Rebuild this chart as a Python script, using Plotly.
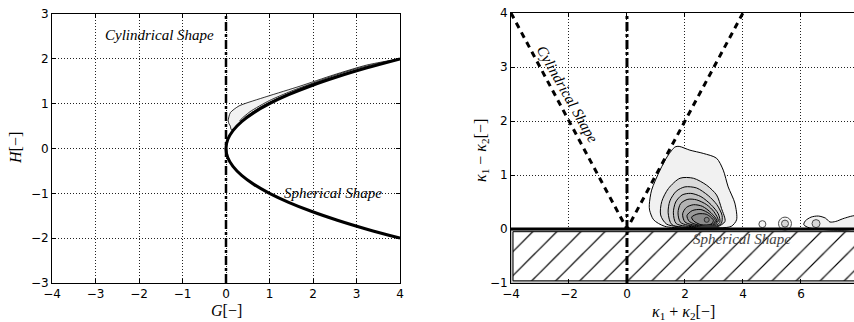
import plotly.graph_objects as go

# ---------------------------------------------------------------------------
# Data
# ---------------------------------------------------------------------------

# left panel: boundary H^2 = G (read points), both branches in one list
bound_g = [4, 3.24, 2.56, 1.96, 1.44, 1.0, 0.64, 0.36, 0.16, 0.04, 0.0,
           0.04, 0.16, 0.36, 0.64, 1.0, 1.44, 1.96, 2.56, 3.24, 4]
bound_h = [-2, -1.8, -1.6, -1.4, -1.2, -1.0, -0.8, -0.6, -0.4, -0.2, 0.0,
           0.2, 0.4, 0.6, 0.8, 1.0, 1.2, 1.4, 1.6, 1.8, 2]

# left panel: density contours hugging the upper branch (outer -> inner)
left_levels = [
    ([0.07, 0.05, 0.1, 0.3, 0.94, 1.7, 2.47, 3.23, 4.0, 3.24, 2.56, 1.96, 1.44, 1.0, 0.64, 0.36, 0.2, 0.12, 0.1, 0.07],
     [0.55, 0.62, 0.8, 0.95, 1.16, 1.39, 1.64, 1.86, 2.0, 1.8, 1.6, 1.4, 1.2, 1.0, 0.8, 0.6, 0.45, 0.42, 0.5, 0.55]),
    ([0.32, 0.55, 1.0, 1.5, 2.0, 2.5, 3.0, 3.5, 4.0, 3.24, 2.56, 1.96, 1.44, 1.0, 0.64, 0.36, 0.32],
     [0.62, 0.82, 1.07, 1.28, 1.46, 1.63, 1.78, 1.9, 2.0, 1.8, 1.6, 1.4, 1.2, 1.0, 0.8, 0.6, 0.62]),
    ([0.45, 0.8, 1.3, 1.9, 2.5, 3.1, 3.6, 4.0, 3.24, 2.56, 1.96, 1.44, 1.0, 0.64, 0.45],
     [0.7, 0.93, 1.17, 1.41, 1.6, 1.77, 1.9, 2.0, 1.8, 1.6, 1.4, 1.2, 1.0, 0.8, 0.7]),
    ([0.6, 1.0, 1.6, 2.2, 2.8, 3.4, 4.0, 3.24, 2.56, 1.96, 1.44, 1.0, 0.64, 0.6],
     [0.8, 1.03, 1.28, 1.5, 1.68, 1.85, 2.0, 1.8, 1.6, 1.4, 1.2, 1.0, 0.8, 0.8]),
]

# right panel: V-shaped cylindrical boundary
cyl_x = [-4, 0, 4]
cyl_y = [4, 0, 4]

# right panel: hatched (forbidden) band below zero
band_x = [-3.93, 7.9, 7.9, -3.93, -3.93]
band_y = [-0.05, -0.05, -0.96, -0.96, -0.05]

# right panel: density contours of the main blob (outer -> inner)
right_levels = [
    ([0.92, 0.78, 0.77, 0.85, 1.14, 1.4, 1.66, 1.8, 2.17, 2.63, 3.09, 3.32, 3.49, 3.72, 3.78, 3.6, 3.2, 2.0, 1.3, 0.92],
     [0.17, 0.35, 0.45, 0.72, 1.09, 1.35, 1.52, 1.53, 1.46, 1.40, 1.31, 1.09, 0.78, 0.48, 0.17, 0.05, 0.02, 0.02, 0.05, 0.17]),
    ([1.37, 1.16, 1.2, 1.43, 1.83, 2.29, 2.75, 3.09, 3.26, 3.38, 3.1, 2.2, 1.37],
     [0.09, 0.26, 0.51, 0.75, 0.94, 0.94, 0.81, 0.63, 0.38, 0.14, 0.04, 0.03, 0.09]),
    ([1.55, 1.42, 1.48, 1.7, 2.0, 2.4, 2.8, 3.1, 3.28, 3.25, 3.0, 2.3, 1.55],
     [0.08, 0.3, 0.52, 0.7, 0.78, 0.76, 0.62, 0.45, 0.25, 0.1, 0.04, 0.03, 0.08]),
    ([1.7, 1.6, 1.68, 1.9, 2.2, 2.55, 2.9, 3.15, 3.2, 2.95, 2.4, 1.7],
     [0.1, 0.3, 0.5, 0.63, 0.66, 0.6, 0.45, 0.28, 0.12, 0.05, 0.04, 0.1]),
    ([1.85, 1.76, 1.85, 2.1, 2.4, 2.75, 3.0, 3.15, 2.95, 2.4, 1.85],
     [0.12, 0.3, 0.47, 0.55, 0.54, 0.45, 0.32, 0.15, 0.06, 0.05, 0.12]),
    ([2.0, 1.92, 2.05, 2.3, 2.6, 2.9, 3.1, 2.95, 2.45, 2.0],
     [0.13, 0.28, 0.4, 0.45, 0.42, 0.3, 0.15, 0.07, 0.06, 0.13]),
    ([2.15, 2.07, 2.25, 2.55, 2.85, 3.05, 2.9, 2.5, 2.15],
     [0.14, 0.25, 0.34, 0.36, 0.28, 0.15, 0.08, 0.07, 0.14]),
    ([2.3, 2.23, 2.45, 2.75, 2.98, 2.9, 2.55, 2.3],
     [0.15, 0.22, 0.28, 0.27, 0.16, 0.09, 0.08, 0.15]),
]
right_fills = ["#f1f1f1", "#dadada", "#cdcdcd", "#c0c0c0", "#b3b3b3", "#a6a6a6", "#999999", "#8c8c8c"]

dark_x = [2.3, 2.6, 2.9, 3.2, 3.3, 2.3]
dark_y = [0.0, 0.06, 0.07, 0.03, 0.0, 0.0]

# small satellite blobs along the axis
spot_x = [4.67, 5.45]
spot_y = [0.09, 0.1]
tail_x = [6.1, 6.15, 6.35, 6.6, 6.85, 7.0, 7.2, 7.5, 7.9, 7.9, 6.3, 6.1]
tail_y = [0.08, 0.15, 0.22, 0.24, 0.2, 0.13, 0.14, 0.2, 0.24, 0.02, 0.02, 0.08]
core_x = [2.75, 5.45, 6.52]
core_y = [0.17, 0.1, 0.1]

SERIF = "Liberation Serif"
SANS = "DejaVu Sans"

fig = go.Figure()

# ---------------------------------------------------------------------------
# Left panel
# ---------------------------------------------------------------------------
left_fill = ["#f2f2f2", "#e4e4e4", "#d6d6d6", "#c8c8c8"]
for (gx, hy), col in zip(left_levels, left_fill):
    fig.add_trace(go.Scatter(x=gx, y=hy, mode="lines", fill="toself", fillcolor=col,
                             line=dict(color="black", width=0.8, shape="spline", smoothing=0.6),
                             xaxis="x", yaxis="y", hoverinfo="skip"))

fig.add_trace(go.Scatter(x=bound_g, y=bound_h, mode="lines",
                         line=dict(color="black", width=3, shape="spline"),
                         xaxis="x", yaxis="y"))
fig.add_trace(go.Scatter(x=[0, 0], y=[-3, 3], mode="lines",
                         line=dict(color="black", width=2.5, dash="dashdot"),
                         xaxis="x", yaxis="y"))

# ---------------------------------------------------------------------------
# Right panel
# ---------------------------------------------------------------------------
fig.add_trace(go.Scatter(x=[-4, 7.9, 7.9, -4, -4], y=[0, 0, -1, -1, 0], mode="lines",
                         fill="toself", fillcolor="#c4c4c4", line=dict(width=0),
                         xaxis="x2", yaxis="y2", hoverinfo="skip"))
fig.add_trace(go.Scatter(x=band_x, y=band_y, mode="lines", fill="toself",
                         fillpattern=dict(shape="/", size=17, solidity=0.07,
                                          fgcolor="black", fgopacity=1, bgcolor="white"),
                         line=dict(color="black", width=1),
                         xaxis="x2", yaxis="y2", hoverinfo="skip"))

for (kx, ky), col in zip(right_levels, right_fills):
    fig.add_trace(go.Scatter(x=kx, y=ky, mode="lines", fill="toself", fillcolor=col,
                             line=dict(color="black", width=1, shape="spline", smoothing=0.8),
                             xaxis="x2", yaxis="y2", hoverinfo="skip"))

fig.add_trace(go.Scatter(x=dark_x, y=dark_y, mode="lines", fill="toself", fillcolor="#3a3a3a",
                         line=dict(color="#3a3a3a", width=0.5, shape="spline"),
                         xaxis="x2", yaxis="y2"))
fig.add_trace(go.Scatter(x=tail_x, y=tail_y, mode="lines", fill="toself", fillcolor="#f1f1f1",
                         line=dict(color="black", width=1, shape="spline", smoothing=0.8),
                         xaxis="x2", yaxis="y2"))
fig.add_trace(go.Scatter(x=spot_x, y=spot_y, mode="markers",
                         marker=dict(symbol="circle", size=[7, 13], color="#f1f1f1",
                                     line=dict(color="black", width=1)),
                         xaxis="x2", yaxis="y2"))
fig.add_trace(go.Scatter(x=core_x, y=core_y, mode="markers",
                         marker=dict(symbol="circle", size=[5, 7, 8], color=["#808080", "#cdcdcd", "#cdcdcd"],
                                     line=dict(color="black", width=1)),
                         xaxis="x2", yaxis="y2"))

fig.add_trace(go.Scatter(x=cyl_x, y=cyl_y, mode="lines",
                         line=dict(color="black", width=3, dash="6px,5px"),
                         xaxis="x2", yaxis="y2"))
fig.add_trace(go.Scatter(x=[-4, 7.9], y=[0, 0], mode="lines",
                         line=dict(color="black", width=3),
                         xaxis="x2", yaxis="y2"))
fig.add_trace(go.Scatter(x=[0, 0], y=[-1, 4], mode="lines",
                         line=dict(color="black", width=3, dash="dashdot"),
                         xaxis="x2", yaxis="y2"))

# ---------------------------------------------------------------------------
# Axes
# ---------------------------------------------------------------------------
W, H = 854, 322
ax_common = dict(showgrid=True, gridcolor="#222222", gridwidth=1, griddash="1px,2px",
                 zeroline=False, showline=True, linecolor="black", linewidth=1,
                 ticks="inside", ticklen=4, tickcolor="black",
                 tickfont=dict(family=SANS, size=12, color="black"),
                 layer="above traces", automargin=False)

fig.update_layout(
    width=W, height=H, showlegend=False,
    margin=dict(l=0, r=0, t=0, b=0),
    paper_bgcolor="white", plot_bgcolor="white",
    xaxis=dict(ax_common, domain=[52 / W, 400 / W], range=[-4, 4], dtick=1, mirror="ticks", anchor="y"),
    yaxis=dict(ax_common, domain=[1 - 283 / H, 1 - 14 / H], range=[-3, 3], dtick=1, mirror="ticks", anchor="x"),
    xaxis2=dict(ax_common, domain=[511 / W, 1.0], range=[-4, 7.83], dtick=2, mirror="ticks", anchor="y2"),
    yaxis2=dict(ax_common, domain=[1 - 283 / H, 1 - 13 / H], range=[-1, 4], dtick=1, mirror=False, anchor="x2"),
)

lab = dict(family=SERIF, size=16, color="black")
ann = [
    dict(x=226 / W, y=1 - 310 / H, text="<i>G</i>[−]"),
    dict(x=15 / W, y=1 - 148 / H, text="<i>H</i>[−]", textangle=-90),
    dict(x=683 / W, y=1 - 312 / H, text="<i>κ</i><sub>1</sub> + <i>κ</i><sub>2</sub>[−]"),
    dict(x=481 / W, y=1 - 150 / H, text="<i>κ</i><sub>1</sub> − <i>κ</i><sub>2</sub>[−]", textangle=-90),
]
for a in ann:
    fig.add_annotation(xref="paper", yref="paper", showarrow=False, font=lab,
                       xanchor="center", yanchor="middle", **a)

txt = dict(family=SERIF, size=15, color="black")
fig.add_annotation(x=-1.52, y=2.53, xref="x", yref="y", text="<i>Cylindrical Shape</i>",
                   showarrow=False, font=txt)
fig.add_annotation(x=2.46, y=-0.99, xref="x", yref="y", text="<i>Spherical Shape</i>",
                   showarrow=False, font=txt)
fig.add_annotation(x=-2.06, y=2.5, xref="x2", yref="y2", text="<i>Cylindrical Shape</i>",
                   showarrow=False, font=txt, textangle=60.5)
fig.add_annotation(x=3.95, y=-0.19, xref="x2", yref="y2", text="<i>Spherical Shape</i>",
                   showarrow=False, font=dict(family=SERIF, size=15, color="#444444"))

# the page body has a default 8px margin; drop it so the figure sits at the corner
fig.write_html("out.html", config={"displayModeBar": False},
               post_script="document.body.style.margin='0';")
